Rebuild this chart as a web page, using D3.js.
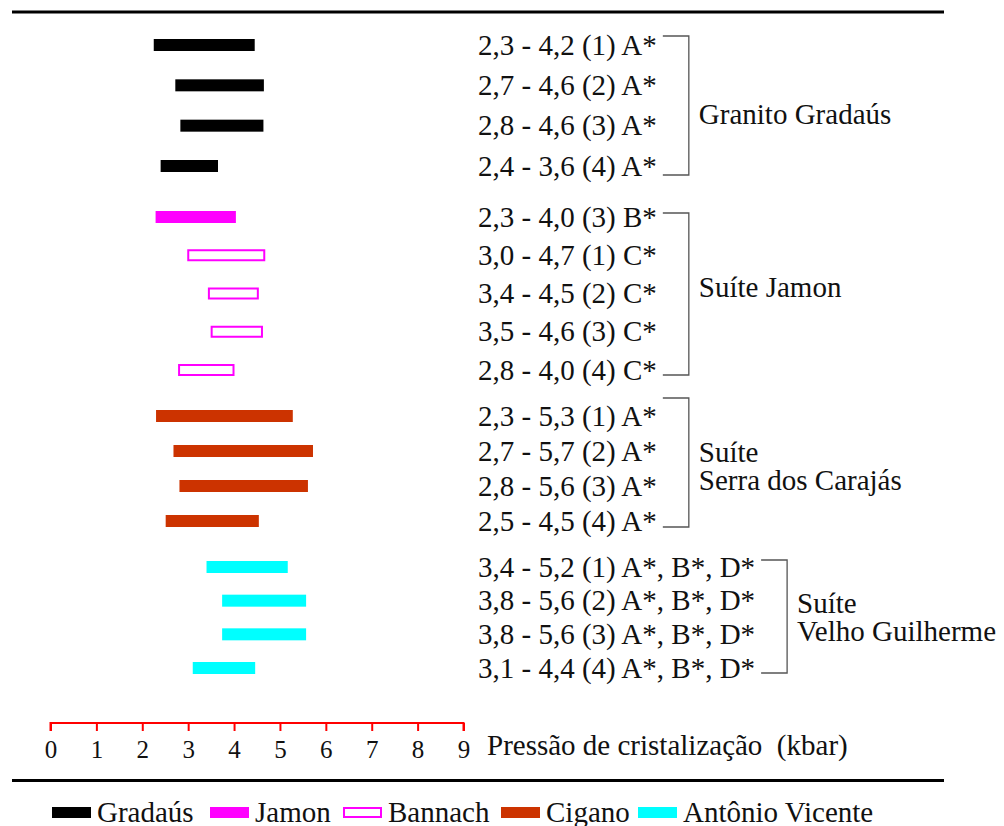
<!DOCTYPE html>
<html>
<head>
<meta charset="utf-8">
<script src="https://cdn.jsdelivr.net/npm/d3@7.9.0/dist/d3.min.js"></script>
<style>
  body { margin: 0; background: #fff; }
</style>
</head>
<body>
<svg id="chart" width="1004" height="826"></svg>
<script>
// series (legend) names and colours
const seriesNames = ["Gradaús", "Jamon", "Bannach", "Cigano", "Antônio Vicente"];
const seriesColors = ["#000000", "#ff00ff", "#ff00ff", "#cc3300", "#00ffff"];
const seriesHollow = [false, false, true, false, false];

// one entry per bar, top to bottom
const rowSeries = [0, 0, 0, 0, 1, 2, 2, 2, 2, 3, 3, 3, 3, 4, 4, 4, 4];
const pMin = [2.25, 2.72, 2.83, 2.40, 2.29, 2.98, 3.43, 3.49, 2.78, 2.30, 2.68, 2.81, 2.51, 3.40, 3.74, 3.74, 3.10];
const pMax = [4.45, 4.65, 4.64, 3.65, 4.04, 4.68, 4.54, 4.63, 4.01, 5.28, 5.72, 5.61, 4.54, 5.17, 5.57, 5.57, 4.46];
const rowLabels = [
  "2,3 - 4,2 (1) A*", "2,7 - 4,6 (2) A*", "2,8 - 4,6 (3) A*", "2,4 - 3,6 (4) A*",
  "2,3 - 4,0 (3) B*", "3,0 - 4,7 (1) C*", "3,4 - 4,5 (2) C*", "3,5 - 4,6 (3) C*", "2,8 - 4,0 (4) C*",
  "2,3 - 5,3 (1) A*", "2,7 - 5,7 (2) A*", "2,8 - 5,6 (3) A*", "2,5 - 4,5 (4) A*",
  "3,4 - 5,2 (1) A*, B*, D*", "3,8 - 5,6 (2) A*, B*, D*", "3,8 - 5,6 (3) A*, B*, D*", "3,1 - 4,4 (4) A*, B*, D*"
];

// bracketed groups: first row, last row, label lines
const groupFirst = [0, 4, 9, 13];
const groupLast = [3, 8, 12, 16];
const groupNames = [["Granito Gradaús"], ["Suíte Jamon"], ["Suíte", "Serra dos Carajás"], ["Suíte", "Velho Guilherme"]];
const groupPadTop = [9, 4, 18, 7];
const groupPadBottom = [9, 5, 6, 5];
const groupLabelShift = [9, -7, 4, 1];

const ticks = [0, 1, 2, 3, 4, 5, 6, 7, 8, 9];
const axisTitle = "Pressão de cristalização  (kbar)";

const FONT = "'Liberation Serif', 'Times New Roman', Tinos, serif";
const FS = 29;
const svg = d3.select("#chart").attr("font-family", FONT);

const x = d3.scaleLinear().domain([0, 9]).range([50.5, 463.5]);
// row index -> vertical centre (groups are separated by gaps)
const y = d3.scaleLinear()
  .domain([0, 3, 4, 8, 9, 12, 13, 16])
  .range([45, 166, 217, 370, 416, 521, 567, 668]);
const barH = 12;

// top and bottom rules
[12, 780.5].forEach(yy => {
  svg.append("line").attr("x1", 12).attr("x2", 944).attr("y1", yy).attr("y2", yy)
    .attr("stroke", "#000").attr("stroke-width", 3);
});

// bars
rowSeries.forEach((s, i) => {
  const hollow = seriesHollow[s];
  svg.append("rect")
    .attr("x", x(pMin[i]) + (hollow ? 1 : 0))
    .attr("y", y(i) - barH / 2 + (hollow ? 1 : 0))
    .attr("width", x(pMax[i]) - x(pMin[i]) - (hollow ? 2 : 0))
    .attr("height", barH - (hollow ? 2 : 0))
    .attr("fill", hollow ? "#fff" : seriesColors[s])
    .attr("stroke", hollow ? seriesColors[s] : "none")
    .attr("stroke-width", 2);
});

// row labels
const labelX = 478;
const rowText = svg.selectAll("text.row").data(rowLabels).join("text")
  .attr("class", "row")
  .attr("x", labelX)
  .attr("y", (d, i) => y(i))
  .attr("dy", "0.33em")
  .attr("font-size", FS)
  .attr("fill", "#111")
  .text(d => d);
const widths = rowText.nodes().map(n => n.getComputedTextLength());

// brackets and group names
groupFirst.forEach((f, g) => {
  const l = groupLast[g];
  const maxW = d3.max(widths.slice(f, l + 1));
  const bx = labelX + maxW + 32;
  const y0 = y(f) - groupPadTop[g], y1 = y(l) + groupPadBottom[g];
  svg.append("path")
    .attr("d", `M${bx - 26},${y0}H${bx}V${y1}H${bx - 26}`)
    .attr("fill", "none").attr("stroke", "#555").attr("stroke-width", 1.3);
  const lines = groupNames[g];
  const mid = (y0 + y1) / 2 + groupLabelShift[g];
  const t = svg.append("text")
    .attr("y", mid - (lines.length - 1) / 2 * 28)
    .attr("font-size", FS)
    .attr("fill", "#111");
  lines.forEach((line, k) => {
    t.append("tspan")
      .attr("x", bx + 10)
      .attr("dy", k === 0 ? "0.33em" : 28)
      .text(line);
  });
});

// axis
const axisY = 723;
const axis = svg.append("g").attr("transform", `translate(0,${axisY})`)
  .call(d3.axisBottom(x).tickValues(ticks).tickSize(8).tickFormat(d3.format("d")));
axis.attr("font-family", FONT);
axis.select(".domain").attr("stroke", "#ff0000").attr("stroke-width", 2)
  .attr("d", `M${x(0)},8V0H${x(9)}V8`);
axis.selectAll(".tick line").attr("stroke", "#ff0000").attr("stroke-width", 2);
axis.selectAll(".tick text").attr("font-size", 25).attr("y", 27).attr("dy", "0.33em")
  .attr("fill", "#111");

svg.append("text")
  .attr("x", 487).attr("y", 745).attr("dy", "0.33em")
  .attr("font-size", FS)
  .attr("fill", "#111")
  .attr("xml:space", "preserve")
  .style("white-space", "pre")
  .text(axisTitle);

// legend
const legendX = [52, 210, 343, 501, 638];
seriesNames.forEach((n, i) => {
  const hollow = seriesHollow[i];
  svg.append("rect")
    .attr("x", legendX[i] + (hollow ? 1 : 0)).attr("y", 807 + (hollow ? 1 : 0))
    .attr("width", 39 - (hollow ? 2 : 0)).attr("height", 11 - (hollow ? 2 : 0))
    .attr("fill", hollow ? "#fff" : seriesColors[i])
    .attr("stroke", hollow ? seriesColors[i] : "none").attr("stroke-width", 2);
  svg.append("text")
    .attr("x", legendX[i] + 45).attr("y", 822)
    .attr("font-size", FS)
    .attr("fill", "#111")
    .text(n);
});
</script>
</body>
</html>
